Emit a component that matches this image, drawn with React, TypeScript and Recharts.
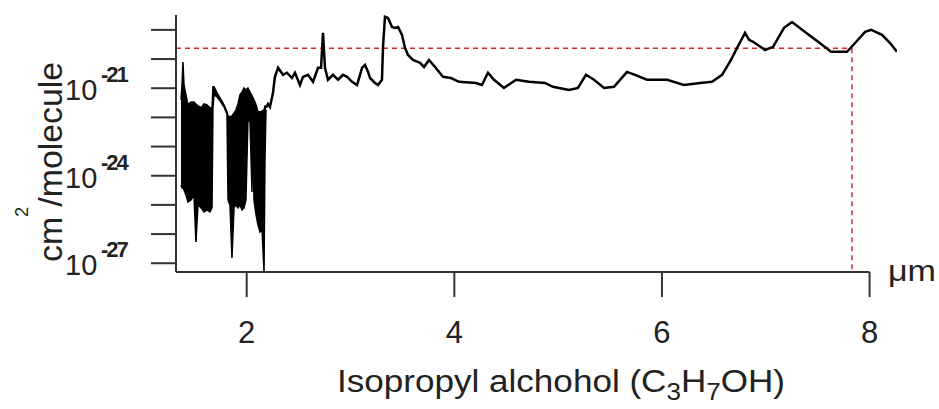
import React from 'react';
import { ComposedChart, Line, Area, XAxis, YAxis, ReferenceLine, Label } from 'recharts';

const FONT = '"Liberation Sans", Arial, sans-serif';
const TEXT = '#222';
const AXIS = '#333';
const RED = '#d42a2a';

// axis setup (y values are log10 of cross-section in cm^2/molecule)
const xTicks = [2, 4, 6, 8];
const yTicks = [-27, -26, -25, -24, -23, -22, -21, -20, -19];
const yLabelTicks = [-21, -24, -27];
const xDomain = [1.319, 8.264];
const yDomain = [-27.3, -18.49];
const xAxisEnd = 8.0;
const refLevel = -19.63;
const refWavelength = 7.83;

// dense, rapidly oscillating part of the spectrum (envelope)
const denseX = [1.367, 1.377, 1.386, 1.396, 1.415, 1.435, 1.463, 1.492, 1.511, 1.531, 1.56, 1.589, 1.618, 1.646, 1.666, 1.675, 1.685, 1.714, 1.743, 1.781, 1.81, 1.82, 1.839, 1.858, 1.878, 1.897, 1.916, 1.935, 1.955, 1.974, 1.993, 2.012, 2.032, 2.051, 2.061, 2.07, 2.09, 2.109, 2.128, 2.148, 2.167, 2.176, 2.186];
const denseHigh = [-21.4, -20.89, -20.1, -20.89, -21.23, -21.57, -21.47, -21.47, -21.54, -21.61, -21.67, -21.54, -21.57, -21.67, -21.67, -20.95, -20.95, -21.16, -21.33, -21.57, -21.81, -21.95, -21.98, -21.95, -21.85, -21.74, -21.54, -21.23, -21.13, -20.99, -21.06, -20.99, -21.13, -21.26, -21.33, -21.4, -21.57, -21.81, -21.81, -21.78, -21.74, -21.61, -21.61];
const denseLow = [-24.32, -24.42, -24.42, -24.49, -24.66, -24.9, -24.83, -24.66, -26.27, -25.0, -25.1, -25.24, -25.17, -25.24, -25.1, -21.67, -21.23, -21.3, -21.43, -21.64, -21.88, -24.83, -25.0, -26.82, -25.1, -25.0, -25.1, -25.0, -25.17, -25.1, -24.83, -22.09, -22.16, -24.56, -22.26, -24.83, -25.34, -25.69, -25.93, -25.86, -27.3, -23.46, -21.74];

// smooth part of the spectrum
const lineX = [2.186, 2.205, 2.224, 2.253, 2.272, 2.302, 2.35, 2.388, 2.436, 2.465, 2.513, 2.542, 2.59, 2.639, 2.687, 2.716, 2.735, 2.754, 2.783, 2.831, 2.88, 2.928, 2.967, 3.015, 3.063, 3.111, 3.14, 3.169, 3.188, 3.236, 3.265, 3.303, 3.313, 3.332, 3.361, 3.4, 3.429, 3.458, 3.496, 3.525, 3.554, 3.602, 3.67, 3.708, 3.756, 3.814, 3.891, 3.968, 4.045, 4.209, 4.266, 4.324, 4.382, 4.478, 4.594, 4.719, 4.873, 4.95, 5.105, 5.191, 5.268, 5.345, 5.442, 5.538, 5.663, 5.74, 5.856, 6.049, 6.212, 6.367, 6.482, 6.579, 6.665, 6.723, 6.8, 6.839, 6.878, 6.993, 7.07, 7.176, 7.253, 7.388, 7.504, 7.629, 7.783, 7.86, 7.957, 8.015, 8.12, 8.197, 8.263];
const lineY = [-21.67, -21.54, -21.64, -21.16, -20.61, -20.3, -20.54, -20.47, -20.65, -20.47, -20.89, -20.61, -20.54, -20.78, -20.3, -20.3, -19.1, -20.3, -20.71, -20.54, -20.71, -20.54, -20.61, -20.78, -20.89, -20.3, -20.2, -20.44, -20.65, -20.82, -20.89, -20.71, -19.58, -18.55, -18.59, -18.9, -18.93, -18.9, -19.17, -19.62, -19.86, -20.03, -20.13, -20.27, -20.03, -20.27, -20.61, -20.65, -20.78, -20.82, -20.89, -20.47, -20.71, -20.99, -20.71, -20.78, -20.82, -20.95, -21.06, -20.99, -20.54, -20.71, -20.99, -20.95, -20.44, -20.54, -20.71, -20.71, -20.89, -20.82, -20.78, -20.54, -20.03, -19.62, -19.1, -19.34, -19.41, -19.69, -19.58, -18.93, -18.73, -19.1, -19.41, -19.75, -19.75, -19.45, -19.07, -19.0, -19.17, -19.45, -19.75];

const table = [
  ...denseX.map((x, i) => ({ x, band: [denseLow[i], denseHigh[i]] })),
  ...lineX.map((x, i) => ({ x, y: lineY[i], band: [null, null] })),
];

const XTick = (props: any) => (
  <text x={props.x} y={343} textAnchor="middle" fontSize={31} fill={TEXT} fontFamily={FONT}>
    {props.payload.value}
  </text>
);

const YTick = (props: any) => {
  const v = props.payload.value;
  if (!yLabelTicks.includes(v)) return <g />;
  return (
    <g>
      <text x={65} y={props.y + 12} fontSize={29} fill={TEXT} fontFamily={FONT}>
        10
      </text>
      <text
        x={101}
        y={props.y - 6}
        fontSize={22}
        fontWeight={700}
        letterSpacing={-2}
        fill={TEXT}
        fontFamily={FONT}
      >
        {String(v)}
      </text>
    </g>
  );
};

const YTitle = () => (
  <text
    transform="translate(62,162) rotate(-90)"
    textAnchor="middle"
    fontSize={33}
    fill={TEXT}
    fontFamily={FONT}
    textLength={200}
    lengthAdjust="spacingAndGlyphs"
  >
    cm
    <tspan dy={-34} fontSize={18}>2</tspan>
    <tspan dy={34}>/molecule</tspan>
  </text>
);

const XTitles = () => (
  <g>
    <text
      x={337}
      y={392}
      fontSize={31}
      fill={TEXT}
      fontFamily={FONT}
      textLength={448}
      lengthAdjust="spacingAndGlyphs"
    >
      Isopropyl alchohol (C
      <tspan dy={8} fontSize={23}>3</tspan>
      <tspan dy={-8}>H</tspan>
      <tspan dy={8} fontSize={23}>7</tspan>
      <tspan dy={-8}>OH)</tspan>
    </text>
    <text x={888} y={281} fontSize={30} fill={TEXT} fontFamily={FONT} textLength={48} lengthAdjust="spacingAndGlyphs">
      μm
    </text>
  </g>
);

export default function App() {
  return (
    <div style={{ position: 'absolute', left: 0, top: 0, width: 939, height: 409, background: '#fff' }}>
      <ComposedChart
        width={939}
        height={409}
        data={table}
        margin={{ top: 15, right: 42, bottom: 107, left: 116 }}
      >
        <XAxis
          dataKey="x"
          type="number"
          domain={xDomain}
          ticks={xTicks}
          interval={0}
          allowDataOverflow
          axisLine={false}
          tickLine={{ stroke: AXIS, strokeWidth: 2 }}
          tickSize={25}
          tick={XTick}
          height={30}
        >
          <Label content={XTitles} />
        </XAxis>
        <YAxis
          type="number"
          domain={yDomain}
          ticks={yTicks}
          interval={0}
          allowDataOverflow
          axisLine={{ stroke: AXIS, strokeWidth: 2 }}
          tickLine={{ stroke: AXIS, strokeWidth: 2 }}
          tickSize={25}
          tick={YTick}
          width={60}
        >
          <Label content={YTitle} />
        </YAxis>
        <ReferenceLine
          segment={[{ x: xDomain[0], y: yDomain[0] }, { x: xAxisEnd, y: yDomain[0] }]}
          stroke={AXIS}
          strokeWidth={2}
          ifOverflow="visible"
        />
        <ReferenceLine
          segment={[{ x: xDomain[0], y: refLevel }, { x: refWavelength, y: refLevel }]}
          stroke={RED}
          strokeWidth={1.5}
          strokeDasharray="5 4"
          ifOverflow="visible"
        />
        <ReferenceLine
          segment={[{ x: refWavelength, y: refLevel }, { x: refWavelength, y: yDomain[0] }]}
          stroke={RED}
          strokeWidth={1.5}
          strokeDasharray="5 4"
          ifOverflow="visible"
        />
        <Area
          dataKey="band"
          type="linear"
          stroke="#000"
          strokeWidth={1.5}
          fill="#000"
          fillOpacity={1}
          dot={false}
          activeDot={false}
          isAnimationActive={false}
        />
        <Line
          dataKey="y"
          type="linear"
          stroke="#000"
          strokeWidth={2.5}
          dot={false}
          activeDot={false}
          isAnimationActive={false}
        />
      </ComposedChart>
    </div>
  );
}
